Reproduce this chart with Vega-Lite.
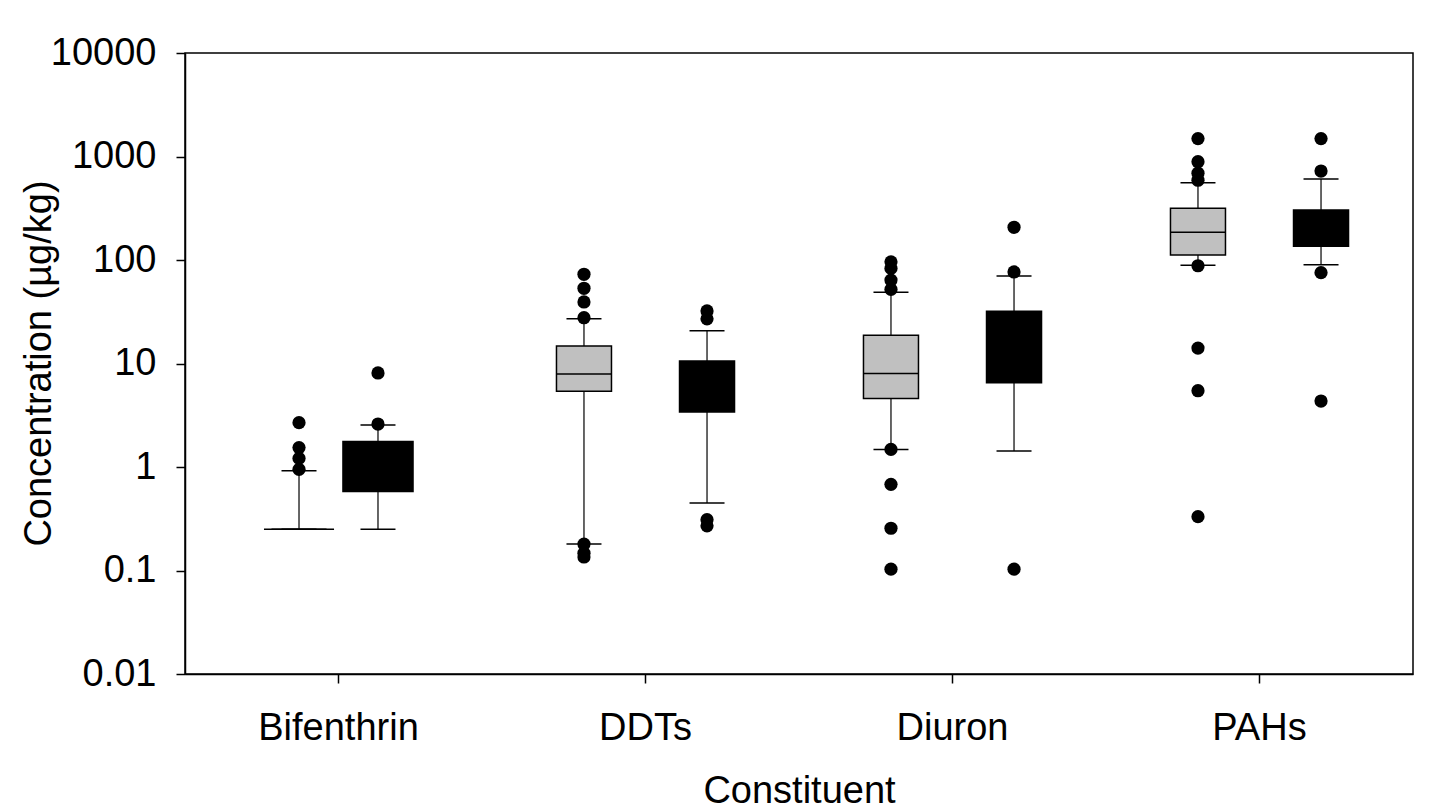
{
  "$schema": "https://vega.github.io/schema/vega-lite/v6.json",
  "width": 1228,
  "height": 621,
  "autosize": {"type": "none"},
  "padding": {"left": 185, "top": 53, "right": 37, "bottom": 138},
  "background": "#ffffff",
  "config": {
    "font": "Liberation Sans",
    "view": {"stroke": "#000000", "strokeWidth": 1.5},
    "axis": {
      "grid": false,
      "domainColor": "#000000",
      "domainWidth": 1.5,
      "tickColor": "#000000",
      "tickWidth": 1.5,
      "tickSize": 9,
      "labelColor": "#000000",
      "titleColor": "#000000",
      "labelFont": "Liberation Sans",
      "titleFont": "Liberation Sans",
      "labelFontSize": 38,
      "titleFontSize": 38,
      "titleFontWeight": "normal",
      "labelOverlap": false,
      "labelFlush": false,
      "labelBound": false
    }
  },
  "datasets": {
    "boxes": [
      {"Constituent": "Bifenthrin", "Group": "Series 1", "lower": 0.25, "q1": 0.25, "median": 0.25, "q3": 0.25, "upper": 0.92},
      {"Constituent": "Bifenthrin", "Group": "Series 2", "lower": 0.25, "q1": 0.58, "median": 1.0, "q3": 1.76, "upper": 2.55},
      {"Constituent": "DDTs", "Group": "Series 1", "lower": 0.18, "q1": 5.4, "median": 7.9, "q3": 14.8, "upper": 27},
      {"Constituent": "DDTs", "Group": "Series 2", "lower": 0.45, "q1": 3.4, "median": 6.0, "q3": 10.6, "upper": 20.7},
      {"Constituent": "Diuron", "Group": "Series 1", "lower": 1.48, "q1": 4.6, "median": 8.0, "q3": 18.7, "upper": 48.7},
      {"Constituent": "Diuron", "Group": "Series 2", "lower": 1.43, "q1": 6.5, "median": 14, "q3": 32, "upper": 70},
      {"Constituent": "PAHs", "Group": "Series 1", "lower": 89, "q1": 112, "median": 185, "q3": 316, "upper": 558},
      {"Constituent": "PAHs", "Group": "Series 2", "lower": 90, "q1": 136, "median": 200, "q3": 304, "upper": 606}
    ],
    "outliers": [
      {"Constituent": "Bifenthrin", "Group": "Series 1", "value": 0.95},
      {"Constituent": "Bifenthrin", "Group": "Series 1", "value": 1.21},
      {"Constituent": "Bifenthrin", "Group": "Series 1", "value": 1.54},
      {"Constituent": "Bifenthrin", "Group": "Series 1", "value": 2.68},
      {"Constituent": "Bifenthrin", "Group": "Series 2", "value": 2.6},
      {"Constituent": "Bifenthrin", "Group": "Series 2", "value": 8.1},
      {"Constituent": "DDTs", "Group": "Series 1", "value": 72.8},
      {"Constituent": "DDTs", "Group": "Series 1", "value": 53.3},
      {"Constituent": "DDTs", "Group": "Series 1", "value": 39.3},
      {"Constituent": "DDTs", "Group": "Series 1", "value": 27.7},
      {"Constituent": "DDTs", "Group": "Series 1", "value": 0.18},
      {"Constituent": "DDTs", "Group": "Series 1", "value": 0.147},
      {"Constituent": "DDTs", "Group": "Series 1", "value": 0.135},
      {"Constituent": "DDTs", "Group": "Series 2", "value": 32.2},
      {"Constituent": "DDTs", "Group": "Series 2", "value": 27},
      {"Constituent": "DDTs", "Group": "Series 2", "value": 0.31},
      {"Constituent": "DDTs", "Group": "Series 2", "value": 0.27},
      {"Constituent": "Diuron", "Group": "Series 1", "value": 96},
      {"Constituent": "Diuron", "Group": "Series 1", "value": 83},
      {"Constituent": "Diuron", "Group": "Series 1", "value": 64},
      {"Constituent": "Diuron", "Group": "Series 1", "value": 52},
      {"Constituent": "Diuron", "Group": "Series 1", "value": 1.48},
      {"Constituent": "Diuron", "Group": "Series 1", "value": 0.68},
      {"Constituent": "Diuron", "Group": "Series 1", "value": 0.256},
      {"Constituent": "Diuron", "Group": "Series 1", "value": 0.103},
      {"Constituent": "Diuron", "Group": "Series 2", "value": 207},
      {"Constituent": "Diuron", "Group": "Series 2", "value": 76.6},
      {"Constituent": "Diuron", "Group": "Series 2", "value": 0.103},
      {"Constituent": "PAHs", "Group": "Series 1", "value": 1490},
      {"Constituent": "PAHs", "Group": "Series 1", "value": 890},
      {"Constituent": "PAHs", "Group": "Series 1", "value": 690},
      {"Constituent": "PAHs", "Group": "Series 1", "value": 590},
      {"Constituent": "PAHs", "Group": "Series 1", "value": 88},
      {"Constituent": "PAHs", "Group": "Series 1", "value": 14.1},
      {"Constituent": "PAHs", "Group": "Series 1", "value": 5.46},
      {"Constituent": "PAHs", "Group": "Series 1", "value": 0.331},
      {"Constituent": "PAHs", "Group": "Series 2", "value": 1490},
      {"Constituent": "PAHs", "Group": "Series 2", "value": 724},
      {"Constituent": "PAHs", "Group": "Series 2", "value": 75.4},
      {"Constituent": "PAHs", "Group": "Series 2", "value": 4.34}
    ]
  },
  "encoding": {
    "x": {
      "field": "Constituent",
      "type": "nominal",
      "title": "Constituent",
      "scale": {"domain": ["Bifenthrin", "DDTs", "Diuron", "PAHs"], "paddingInner": 0, "paddingOuter": 0},
      "axis": {"labelAngle": 0, "labelPadding": 56, "labelBaseline": "alphabetic", "titleBaseline": "alphabetic", "titleY": 128}
    }
  },
  "layer": [
    {
      "encoding": {
        "xOffset": {"field": "Group", "type": "nominal", "scale": {"domain": ["Series 1", "Series 2"], "paddingInner": 0.553, "paddingOuter": 0.524}}
      },
      "layer": [
        {
          "data": {"name": "boxes"},
          "transform": [{"filter": "datum.Constituent !== 'Bifenthrin'"}],
          "mark": {"type": "rule", "color": "#000000", "strokeWidth": 1.2},
          "encoding": {
            "y": {"field": "lower", "type": "quantitative", "title": "Concentration (µg/kg)",
              "scale": {"type": "log", "domain": [0.01, 10000], "nice": false},
              "axis": {"values": [0.01, 0.1, 1, 10, 100, 1000, 10000], "format": "~g", "labelPadding": 20, "titleX": -127, "titleY": 310, "titleAngle": -90, "titleBaseline": "bottom", "titleAlign": "center"}},
            "y2": {"field": "upper"}
          }
        },
        {
          "data": {"name": "boxes"},
          "transform": [{"filter": "datum.Constituent !== 'Bifenthrin'"}],
          "mark": {"type": "bar", "stroke": "#000000", "strokeWidth": 1.5},
          "encoding": {
            "y": {"field": "q1", "type": "quantitative", "title": "Concentration (µg/kg)"},
            "y2": {"field": "q3"},
            "color": {"field": "Group", "type": "nominal", "scale": {"domain": ["Series 1", "Series 2"], "range": ["#c0c0c0", "#000000"]}, "legend": null}
          }
        },
        {
          "data": {"name": "boxes"},
          "transform": [{"filter": "datum.Constituent !== 'Bifenthrin'"}],
          "mark": {"type": "tick", "orient": "horizontal", "size": 35, "thickness": 1.5, "color": "#000000", "opacity": 1},
          "encoding": {"y": {"field": "lower", "type": "quantitative", "title": "Concentration (µg/kg)"}}
        },
        {
          "data": {"name": "boxes"},
          "transform": [{"filter": "datum.Constituent !== 'Bifenthrin'"}],
          "mark": {"type": "tick", "orient": "horizontal", "size": 35, "thickness": 1.5, "color": "#000000", "opacity": 1},
          "encoding": {"y": {"field": "upper", "type": "quantitative", "title": "Concentration (µg/kg)"}}
        },
        {
          "data": {"name": "boxes"},
          "transform": [{"filter": "datum.Constituent !== 'Bifenthrin'"}],
          "mark": {"type": "tick", "orient": "horizontal", "size": 55, "thickness": 1.5, "color": "#000000", "opacity": 1},
          "encoding": {"y": {"field": "median", "type": "quantitative", "title": "Concentration (µg/kg)"}}
        },
        {
          "data": {"name": "outliers"},
          "transform": [{"filter": "datum.Constituent !== 'Bifenthrin'"}],
          "mark": {"type": "circle", "size": 175, "color": "#000000", "opacity": 1},
          "encoding": {"y": {"field": "value", "type": "quantitative", "title": "Concentration (µg/kg)"}}
        }
      ]
    },
    {
      "encoding": {
        "xOffset": {"field": "Group", "type": "nominal", "scale": {"domain": ["Series 1", "Series 2"], "paddingInner": 0.113, "paddingOuter": 1.532}}
      },
      "layer": [
        {
          "data": {"name": "boxes"},
          "transform": [{"filter": "datum.Constituent === 'Bifenthrin'"}],
          "mark": {"type": "rule", "color": "#000000", "strokeWidth": 1.2},
          "encoding": {
            "y": {"field": "lower", "type": "quantitative", "title": "Concentration (µg/kg)"},
            "y2": {"field": "upper"}
          }
        },
        {
          "data": {"name": "boxes"},
          "transform": [{"filter": "datum.Constituent === 'Bifenthrin'"}],
          "mark": {"type": "bar", "stroke": "#000000", "strokeWidth": 1.5},
          "encoding": {
            "y": {"field": "q1", "type": "quantitative", "title": "Concentration (µg/kg)"},
            "y2": {"field": "q3"},
            "color": {"field": "Group", "type": "nominal", "scale": {"domain": ["Series 1", "Series 2"], "range": ["#c0c0c0", "#000000"]}, "legend": null}
          }
        },
        {
          "data": {"name": "boxes"},
          "transform": [{"filter": "datum.Constituent === 'Bifenthrin'"}],
          "mark": {"type": "tick", "orient": "horizontal", "size": 35, "thickness": 1.5, "color": "#000000", "opacity": 1},
          "encoding": {"y": {"field": "lower", "type": "quantitative", "title": "Concentration (µg/kg)"}}
        },
        {
          "data": {"name": "boxes"},
          "transform": [{"filter": "datum.Constituent === 'Bifenthrin'"}],
          "mark": {"type": "tick", "orient": "horizontal", "size": 35, "thickness": 1.5, "color": "#000000", "opacity": 1},
          "encoding": {"y": {"field": "upper", "type": "quantitative", "title": "Concentration (µg/kg)"}}
        },
        {
          "data": {"name": "boxes"},
          "transform": [{"filter": "datum.Constituent === 'Bifenthrin'"}],
          "mark": {"type": "tick", "orient": "horizontal", "size": 55, "thickness": 1.5, "color": "#000000", "opacity": 1},
          "encoding": {"y": {"field": "median", "type": "quantitative", "title": "Concentration (µg/kg)"}}
        },
        {
          "data": {"name": "outliers"},
          "transform": [{"filter": "datum.Constituent === 'Bifenthrin'"}],
          "mark": {"type": "circle", "size": 175, "color": "#000000", "opacity": 1},
          "encoding": {"y": {"field": "value", "type": "quantitative", "title": "Concentration (µg/kg)"}}
        }
      ]
    }
  ],
  "resolve": {"scale": {"xOffset": "independent"}}
}
